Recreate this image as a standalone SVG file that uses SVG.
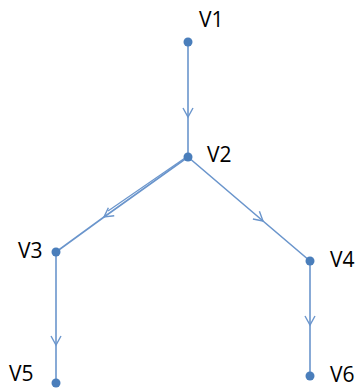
<svg xmlns="http://www.w3.org/2000/svg" width="358" height="388" viewBox="0 0 358 388">
<style>
.e{fill:none;stroke:#6a95cc;stroke-width:1.6;marker-mid:url(#ch)}
.n{fill:#4a7ebb}
.t{font-family:"Open Sans","Liberation Sans",sans-serif;font-size:21px;fill:#000}
</style>
<defs>
<marker id="ch" viewBox="-10 -6 12 12" markerWidth="12" markerHeight="12" refX="0" refY="0" orient="auto" markerUnits="userSpaceOnUse">
<path d="M-9,-5 L0,0 L-9,5" fill="none" stroke="#6a95cc" stroke-width="1.4"/>
</marker>
</defs>
<rect width="358" height="388" fill="#fff"/>
<g id="edges">
<path class="e" d="M188,42 L188,117 L188,157"/>
<path class="e" d="M188,157 L104,217 L56,252"/>
<path fill="none" stroke="#6a95cc" stroke-width="1.2" d="M185,158 L108,211"/>
<path class="e" d="M188,157 L263,221 L310,261"/>
<path class="e" d="M56,252 L56,345 L56,383"/>
<path class="e" d="M310,261 L310,325 L310,376"/>
</g>
<g id="V1"><circle class="n" cx="188" cy="42" r="4.5"/><text class="t" x="199" y="27">V1</text></g>
<g id="V2"><circle class="n" cx="188" cy="157" r="4.5"/><text class="t" x="207" y="162">V2</text></g>
<g id="V3"><circle class="n" cx="56" cy="252" r="4.5"/><text class="t" x="18" y="258">V3</text></g>
<g id="V4"><circle class="n" cx="310" cy="261" r="4.5"/><text class="t" x="330" y="267">V4</text></g>
<g id="V5"><circle class="n" cx="56" cy="383" r="4.5"/><text class="t" x="9" y="381">V5</text></g>
<g id="V6"><circle class="n" cx="310" cy="376" r="4.5"/><text class="t" x="330" y="382">V6</text></g>
</svg>
